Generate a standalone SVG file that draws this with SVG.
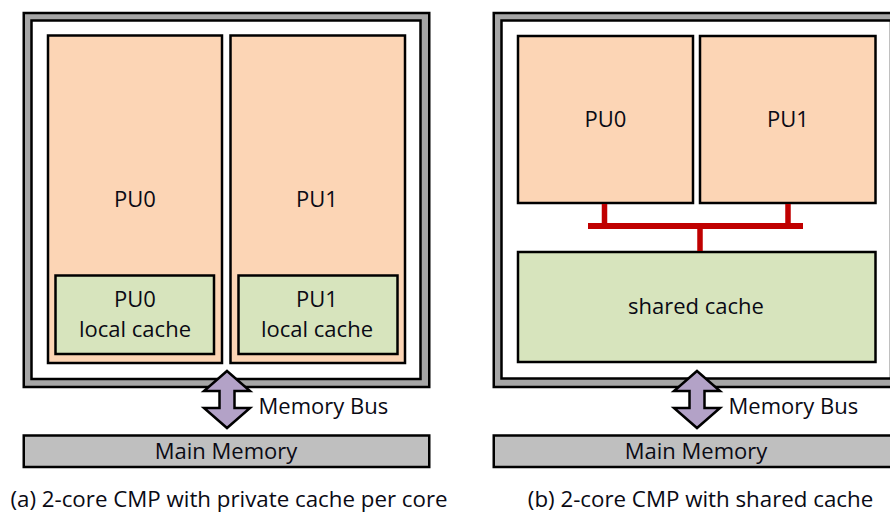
<svg xmlns="http://www.w3.org/2000/svg" width="890" height="517" viewBox="0 0 890 517">
  <style>
    .chip-outer { fill: #a6a6a6; stroke: #000; stroke-width: 2.5; }
    .chip-inner { fill: #fff; stroke: #000; stroke-width: 2.5; }
    .pu { fill: #fcd5b5; stroke: #000; stroke-width: 2.5; }
    .cache { fill: #d7e4bd; stroke: #000; stroke-width: 2.5; }
    .mem { fill: #bfbfbf; stroke: #000; stroke-width: 2.5; }
    .bus-arrow { fill: #b3a2c7; stroke: #000; stroke-width: 2.5; stroke-linejoin: miter; }
    .bus-line { stroke: #c00000; fill: none; }
    text { font-family: "Open Sans", "Liberation Sans", sans-serif; font-size: 22px; fill: #0a0a14; text-anchor: middle; }
    .left { text-anchor: start; }
    .caption { font-size: 22.3px; }
  </style>

  <!-- (a) chip with private caches -->
  <g id="chipA">
    <rect class="chip-outer" x="23.75" y="13" width="405.5" height="374"/>
    <rect class="chip-inner" x="31.5" y="20.5" width="389" height="358.5"/>
  </g>
  <g id="pu0A">
    <rect class="pu" x="48" y="35.5" width="174" height="327.5"/>
    <text x="135" y="207">PU0</text>
  </g>
  <g id="pu1A">
    <rect class="pu" x="230.5" y="35.5" width="174.5" height="327.5"/>
    <text x="317" y="207">PU1</text>
  </g>
  <g id="cache0A">
    <rect class="cache" x="55.5" y="275.5" width="158.5" height="78.5"/>
    <text x="135" y="307">PU0</text>
    <text x="135" y="337">local cache</text>
  </g>
  <g id="cache1A">
    <rect class="cache" x="238.5" y="275.5" width="159" height="78.5"/>
    <text x="317" y="307">PU1</text>
    <text x="317" y="337">local cache</text>
  </g>
  <g id="memA">
    <rect class="mem" x="23.75" y="435.5" width="405.5" height="31.5"/>
    <text x="226" y="458.5">Main Memory</text>
  </g>

  <!-- (b) chip with shared cache -->
  <g id="chipB">
    <rect class="chip-outer" x="493.75" y="13" width="410" height="374"/>
    <rect class="chip-inner" x="501.5" y="20.5" width="389.5" height="358"/>
  </g>
  <g id="pu0B">
    <rect class="pu" x="518" y="36" width="175" height="167"/>
    <text x="605.5" y="127">PU0</text>
  </g>
  <g id="pu1B">
    <rect class="pu" x="700" y="36" width="175.5" height="167"/>
    <text x="788" y="127">PU1</text>
  </g>
  <g id="sharedCacheB">
    <rect class="cache" x="518" y="252" width="357.5" height="110"/>
    <text x="696" y="313.5">shared cache</text>
  </g>
  <g id="memB">
    <rect class="mem" x="493.75" y="435.5" width="410" height="31.5"/>
    <text x="696" y="458.5">Main Memory</text>
  </g>

  <!-- connectors -->
  <g id="connectors">
    <path class="bus-arrow" d="M227,371 L250,391 L234.5,391 L234.5,408 L250,408 L227,428 L204,408 L219.5,408 L219.5,391 L204,391 Z"/>
    <path class="bus-arrow" d="M697,371 L720,391 L704.5,391 L704.5,408 L720,408 L697,428 L674,408 L689.5,408 L689.5,391 L674,391 Z"/>
    <path class="bus-line" stroke-width="6" d="M588,226 H803"/>
    <path class="bus-line" stroke-width="5.5" d="M604.5,204 V226 M788,204 V226 M700,226 V251"/>
  </g>

  <g id="labels">
    <text class="left" x="258.5" y="413.5">Memory Bus</text>
    <text class="left" x="728.5" y="413.5">Memory Bus</text>
    <text class="caption" x="229" y="507">(a) 2-core CMP with private cache per core</text>
    <text class="caption" x="700.5" y="507">(b) 2-core CMP with shared cache</text>
  </g>
</svg>
